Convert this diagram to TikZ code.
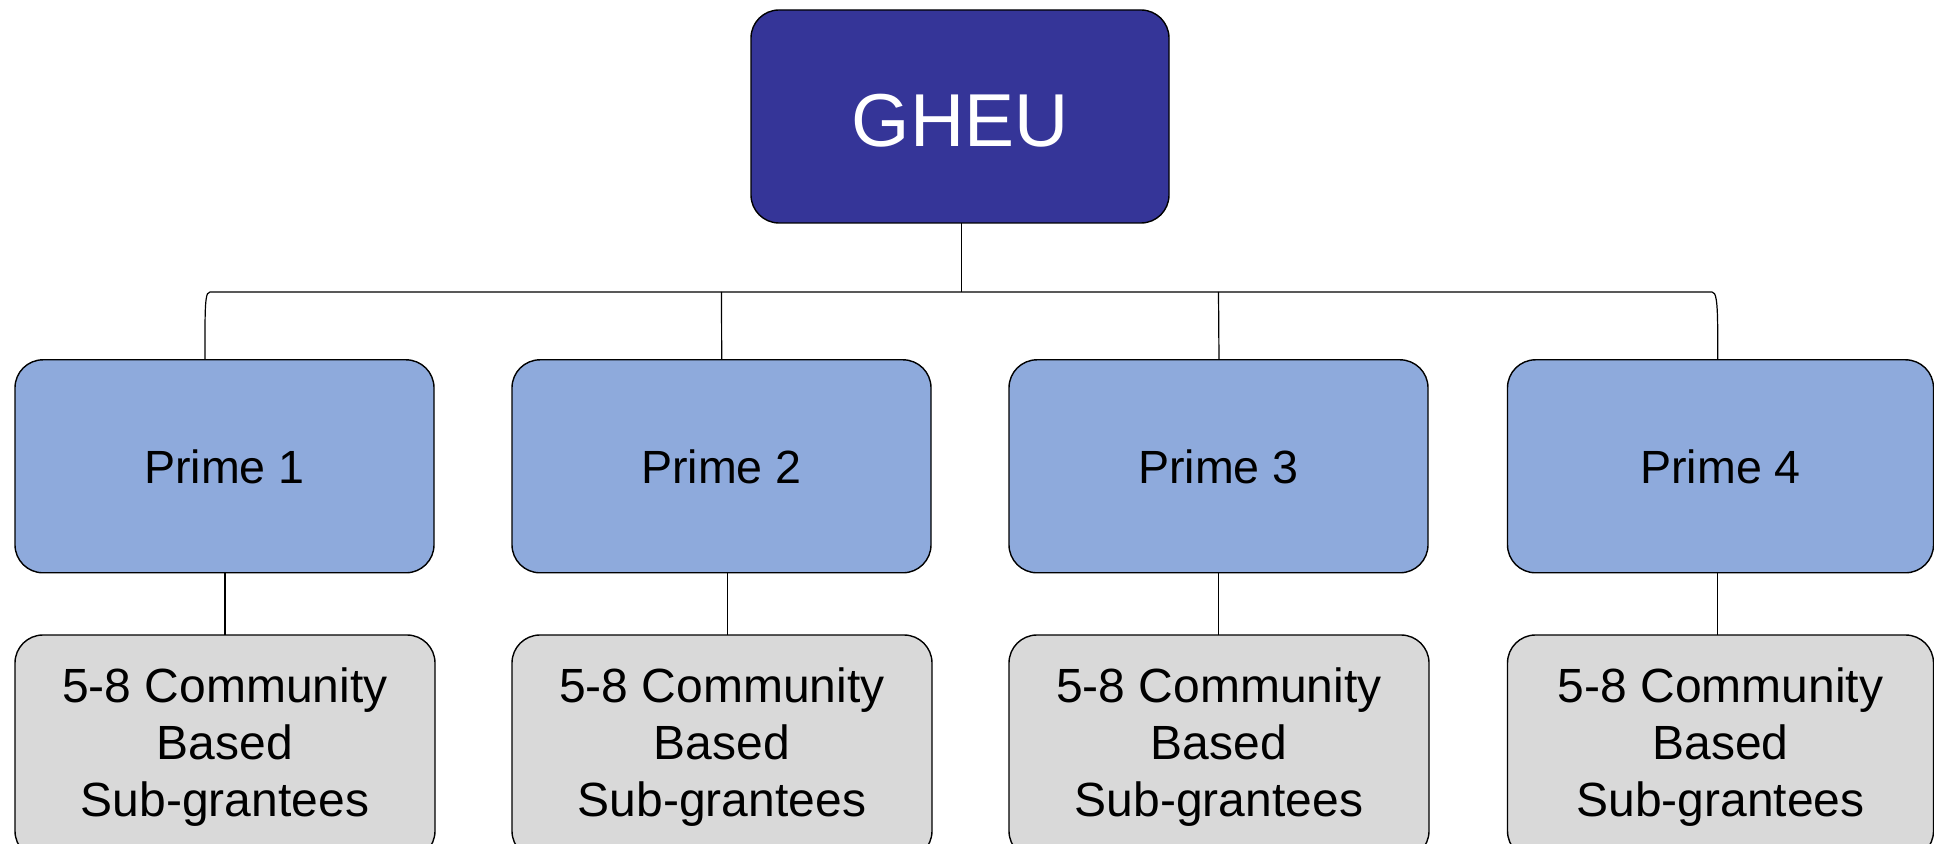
\documentclass[tikz,border=0pt]{standalone}
\usepackage{fontspec}
\setmainfont{Liberation Sans}
\usetikzlibrary{calc}
\definecolor{gheublue}{RGB}{53,53,152}
\definecolor{primeblue}{RGB}{142,170,220}
\definecolor{subgrey}{RGB}{217,217,217}
\tikzset{
  box/.style={draw=black, line width=0.7pt, rounded corners=14pt, inner sep=0pt, outer sep=0pt, align=center},
  topbox/.style={box, fill=gheublue, text=white, minimum width=209pt, minimum height=106.5pt, text height=30pt, text depth=0pt, font=\fontsize{37.5}{42}\selectfont},
  primebox/.style={box, fill=primeblue, minimum width=209.5pt, minimum height=106.5pt, text depth=0pt, font=\fontsize{23.3}{28}\selectfont},
  subbox/.style={box, fill=subgrey, minimum width=210pt, minimum height=112pt, font=\fontsize{24}{28.5}\selectfont},
  link/.style={draw=black, line width=0.6pt}
}
\begin{document}
\begin{tikzpicture}[x=0.5pt,y=-0.5pt]
\clip (0,0) rectangle (1934,844);
\fill[white] (0,0) rectangle (1934,844);
% top
\node[topbox] (gheu) at (960,116.5) {GHEU};
% primes
\node[primebox] (p1) at (224.5,466.3) {Prime 1};
\node[primebox] (p2) at (721.5,466.3) {Prime 2};
\node[primebox] (p3) at (1218.5,466.3) {Prime 3};
\node[primebox, minimum width=213pt] (p4) at (1720.5,466.3) {Prime 4};
% sub-grantees
\node[subbox] (s1) at (225,747) {5-8 Community\\Based\\Sub-grantees};
\node[subbox] (s2) at (722,747) {5-8 Community\\Based\\Sub-grantees};
\node[subbox] (s3) at (1219,747) {5-8 Community\\Based\\Sub-grantees};
\node[subbox, minimum width=213pt] (s4) at (1720.5,747) {5-8 Community\\Based\\Sub-grantees};
% bus
\coordinate (bus) at (961.5,292);
\path[link] (gheu.south -| bus) -- (bus);
\path[link] ($(p1.north)+(-19.5,0)$) -- ++(0,-25) .. controls ++(0,-35) and (206,292) .. (210,292)
  -- (1712,292) .. controls (1716,292) and (1717.7,300) .. (1717.7,335) -- (p4.north -| 1717.7,0);
\path[link] (p2.north -| 721.7,0) -- (p2.north |- bus);
\path[link] (p3.north -| 1219,0) -- (p3.north |- bus);
% lower links
\path[link] (p1.south -| 225,0) -- (s1.north -| 225,0);
\path[link] (p2.south -| 727.7,0) -- (s2.north -| 727.7,0);
\path[link] (p3.south -| 1218.7,0) -- (s3.north -| 1218.7,0);
\path[link] (p4.south -| 1717.7,0) -- (s4.north -| 1717.7,0);
\end{tikzpicture}
\end{document}
